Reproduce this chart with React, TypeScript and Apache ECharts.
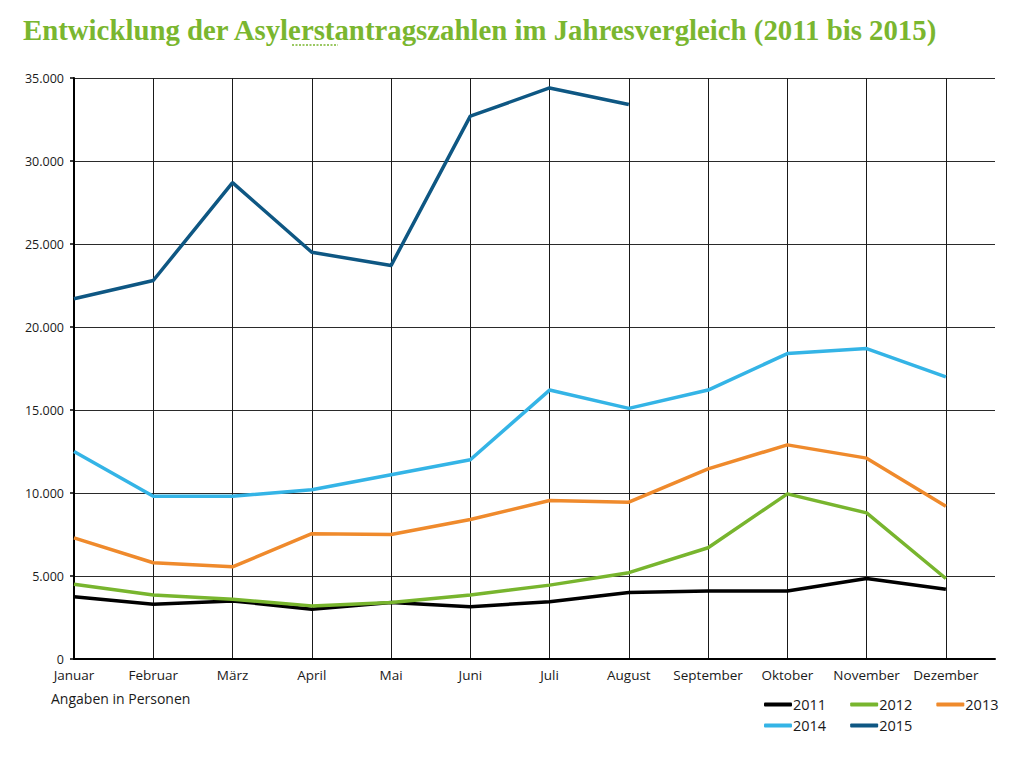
import React, { useEffect, useRef } from "react";
import * as echarts from "echarts";

const months = ["Januar", "Februar", "März", "April", "Mai", "Juni", "Juli", "August", "September", "Oktober", "November", "Dezember"];
const years = ["2011", "2012", "2013", "2014", "2015"];
const values2011 = [3750, 3300, 3500, 3000, 3400, 3150, 3450, 4000, 4100, 4100, 4850, 4200];
const values2012 = [4500, 3850, 3600, 3200, 3400, 3850, 4450, 5200, 6700, 9950, 8800, 4850];
const values2013 = [7300, 5800, 5550, 7550, 7500, 8400, 9550, 9450, 11450, 12900, 12100, 9200];
const values2014 = [12500, 9800, 9800, 10200, 11100, 12000, 16200, 15100, 16200, 18400, 18700, 17000];
const values2015 = [21700, 22800, 28700, 24500, 23700, 32700, 34400, 33400];
const seriesValues = [values2011, values2012, values2013, values2014, values2015];
const colors = ["#000000", "#78b52e", "#ef8a2c", "#34b4e6", "#0e5783"];

const fmt = (v: number) => String(v).replace(/\B(?=(\d{3})+(?!\d))/g, ".");

const legendBase = {
  left: 759,
  itemGap: 24,
  itemWidth: 28,
  itemHeight: 4,
  icon: "roundRect",
  orient: "horizontal",
  textStyle: { fontFamily: "Open Sans", fontSize: 14.5, color: "#1a1a1a", padding: [0, 0, 0, -4] },
};

export default function App() {
  const ref = useRef<HTMLDivElement>(null);
  useEffect(() => {
    if (!ref.current) return;
    const chart = echarts.init(ref.current, null, { renderer: "svg" });
    const splitColors = months.map(() => "#1a1a1a").concat(["rgba(0,0,0,0)"]);
    chart.setOption({
      animation: false,
      backgroundColor: "#ffffff",
      title: {
        text: "Entwicklung der Asylerstantragszahlen im Jahresvergleich (2011 bis 2015)",
        left: 18,
        top: 10,
        textStyle: {
          fontFamily: "Liberation Serif",
          fontWeight: "bold",
          fontSize: 28.8,
          color: "#7ab62f",
        },
      },
      grid: { left: 74, top: 78, right: 29, bottom: 117, containLabel: false },
      legend: [
        { ...legendBase, top: 692, data: years.slice(0, 3) },
        { ...legendBase, top: 713, data: years.slice(3) },
      ],
      graphic: [
        {
          type: "text",
          left: 51,
          top: 691,
          style: { text: "Angaben in Personen", fontFamily: "Open Sans", fontSize: 14, fill: "#1a1a1a" },
        },
        {
          type: "line",
          shape: { x1: 292, y1: 45, x2: 338, y2: 45 },
          style: { stroke: "#7ab62f", lineWidth: 1.5, lineDash: [2, 1.5] },
        },
      ],
      xAxis: {
        type: "value",
        min: 0,
        max: 11.62,
        interval: 1,
        axisLine: { show: true, lineStyle: { color: "#000", width: 2 } },
        axisTick: { show: false },
        axisLabel: {
          margin: 9,
          fontFamily: "Open Sans",
          fontSize: 13.5,
          color: "#1a1a1a",
          showMaxLabel: false,
          formatter: (v: number) => (Number.isInteger(v) && months[v] ? months[v] : ""),
        },
        splitLine: { show: true, showMaxLine: false, lineStyle: { color: splitColors, width: 1 } },
      },
      yAxis: {
        type: "value",
        min: 0,
        max: 35000,
        interval: 5000,
        axisLine: { show: true, lineStyle: { color: "#000", width: 2 } },
        axisTick: { show: true, length: 4, lineStyle: { color: "#000", width: 1.5 } },
        axisLabel: {
          margin: 10,
          fontFamily: "Open Sans",
          fontSize: 12.5,
          color: "#1a1a1a",
          formatter: (v: number) => fmt(v),
        },
        splitLine: { show: true, lineStyle: { color: "#2a2a2a", width: 1 } },
      },
      series: years.map((y, i) => ({
        name: y,
        type: "line",
        data: seriesValues[i].map((v, j) => [j, v]),
        symbol: "none",
        lineStyle: { color: colors[i], width: 3.5 },
        itemStyle: { color: colors[i] },
        z: 3,
      })),
    });
    return () => chart.dispose();
  }, []);
  return <div ref={ref} style={{ position: "fixed", left: 0, top: 0, width: 1024, height: 776 }} />;
}
